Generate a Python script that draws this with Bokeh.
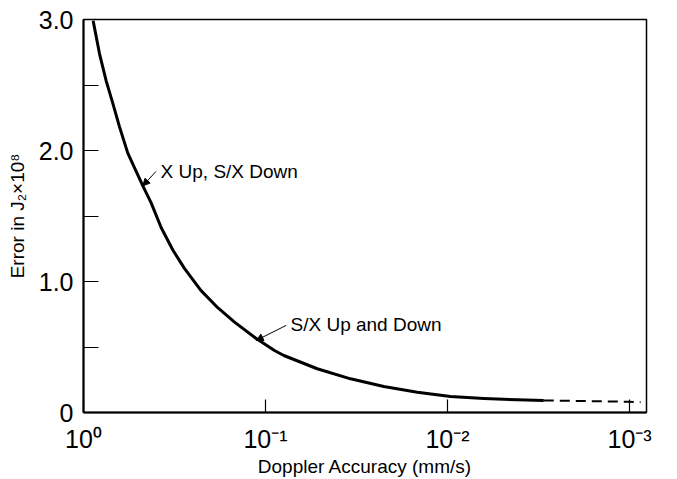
from bokeh.plotting import figure
from bokeh.models import Range1d, FixedTicker, Label, Arrow, NormalHead, CustomJSTickFormatter
from bokeh.embed import file_html
from bokeh.resources import INLINE

# Data
x_solid = [0.885, 0.871, 0.817, 0.750, 0.690, 0.634, 0.571, 0.525, 0.472, 0.425, 0.374, 0.323,
           0.279, 0.226, 0.183, 0.148, 0.1125, 0.0893, 0.0793, 0.0520, 0.0341, 0.0224,
           0.01466, 0.00963, 0.00632, 0.00414, 0.00296]
y_solid = [2.99, 2.94, 2.74, 2.53, 2.36, 2.18, 1.98, 1.87, 1.73, 1.60, 1.41, 1.24,
           1.10, 0.93, 0.80, 0.69, 0.565, 0.473, 0.435, 0.334, 0.257, 0.198,
           0.155, 0.122, 0.107, 0.097, 0.092]
x_dash = [0.00296, 0.001, 0.00087]
y_dash = [0.092, 0.082, 0.079]

x_ticks = [1, 0.1, 0.01, 0.001]
x_tick_labels = ["10⁰", "10⁻¹", "10⁻²", "10⁻³"]
y_ticks = [0, 0.5, 1.0, 1.5, 2.0, 2.5, 3.0]
y_tick_labels = ["0", "", "1.0", "", "2.0", "", "3.0"]

FONT = "Liberation Sans"

p = figure(width=677, height=479, x_axis_type="log",
           x_range=Range1d(1, 10 ** -3.093), y_range=Range1d(0, 3.0),
           output_backend="svg", toolbar_location=None,
           min_border_left=83, min_border_right=31, min_border_top=19, min_border_bottom=67)
p.background_fill_color = "white"
p.border_fill_color = "white"
p.grid.visible = False
p.outline_line_color = "black"
p.outline_line_width = 1.5

p.line(x_solid, y_solid, line_color="black", line_width=3, line_join="round")
p.line(x_dash, y_dash, line_color="black", line_width=2, line_dash="10 6")

# x axis
xa = p.xaxis[0]
xa.ticker = FixedTicker(ticks=x_ticks)
xa.formatter = CustomJSTickFormatter(args=dict(t=x_ticks, l=x_tick_labels), code="""
    for (let i = 0; i < t.length; i++) { if (Math.abs(Math.log10(tick) - Math.log10(t[i])) < 1e-6) return l[i]; }
    return "";
""")
xa.major_tick_in = 13
xa.major_tick_out = 0
xa.minor_tick_in = 0
xa.minor_tick_out = 0
xa.axis_line_width = 2
xa.major_tick_line_width = 1.2
xa.major_label_text_font = FONT
xa.major_label_text_font_size = "25px"
xa.major_label_text_color = "black"
xa.major_label_standoff = 12
xa.axis_label = "Doppler Accuracy (mm/s)"
xa.axis_label_text_font = FONT
xa.axis_label_text_font_size = "19px"
xa.axis_label_text_font_style = "normal"
xa.axis_label_text_color = "black"
xa.axis_label_standoff = 0

# y axis
ya = p.yaxis[0]
ya.ticker = FixedTicker(ticks=y_ticks)
ya.major_label_overrides = {float(v): s for v, s in zip(y_ticks, y_tick_labels)}
ya.major_label_overrides.update({0: "0", 1: "1.0", 2: "2.0", 3: "3.0"})
ya.major_tick_in = 15
ya.major_tick_out = 0
ya.minor_tick_in = 0
ya.minor_tick_out = 0
ya.axis_line_width = 2
ya.major_tick_line_width = 1.2
ya.major_label_text_font = FONT
ya.major_label_text_font_size = "25px"
ya.major_label_text_color = "black"
ya.major_label_standoff = 10
ya.axis_label = "Error in J₂×10⁸"
ya.axis_label_text_font = FONT
ya.axis_label_text_font_size = "19px"
ya.axis_label_text_font_style = "normal"
ya.axis_label_text_color = "black"
ya.axis_label_standoff = 8

# annotations
p.add_layout(Label(x=0.377, y=1.84, text="X Up, S/X Down", text_font=FONT,
                   text_font_size="19px", text_baseline="middle", text_color="black"))
p.add_layout(Arrow(x_start=0.40, y_start=1.84, x_end=0.472, y_end=1.73,
                   line_width=1, line_color="black",
                   end=NormalHead(size=7, fill_color="black", line_color="black")))
p.add_layout(Label(x=0.0729, y=0.67, text="S/X Up and Down", text_font=FONT,
                   text_font_size="19px", text_baseline="middle", text_color="black"))
p.add_layout(Arrow(x_start=0.077, y_start=0.665, x_end=0.1125, y_end=0.55,
                   line_width=1, line_color="black",
                   end=NormalHead(size=7, fill_color="black", line_color="black")))

open("out.html", "w").write(file_html(p, INLINE))
